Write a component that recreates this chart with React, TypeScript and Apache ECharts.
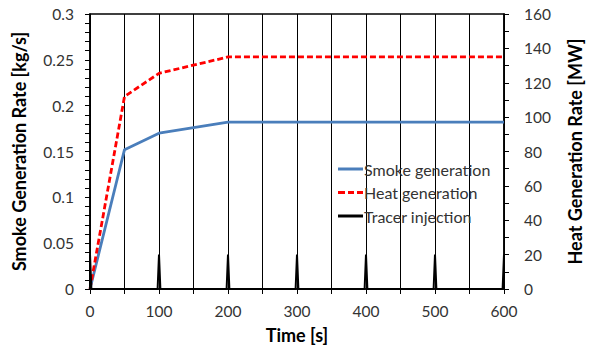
import React, { useEffect, useRef } from "react";
import * as echarts from "echarts";

const smokeTimes = [0, 50, 100, 200, 600];
const smokeValues = [0, 0.152, 0.17, 0.182, 0.182];
const heatTimes = [0, 50, 100, 200, 600];
const heatValues = [0, 112, 125.5, 135, 135];
const tracerTimes = [0, 0, 2, 98, 100, 102, 198, 200, 202, 298, 300, 302, 398, 400, 402, 498, 500, 502, 598, 600, 600];
const tracerValues = [0, 20, 0, 0, 20, 0, 0, 20, 0, 0, 20, 0, 0, 20, 0, 0, 20, 0, 0, 20, 0];
const seriesNames = ["Smoke generation", "Heat generation", "Tracer injection"];

const FONT = "Lato, 'Open Sans', sans-serif";
const SOLID_ICON = "path://M0,0H25V3H0Z";
const DASH_ICON = "path://M0,0H7V3H0Z M10,0H16V3H10Z M19,0H25V3H19Z";

export default function App() {
  const ref = useRef<HTMLDivElement>(null);
  useEffect(() => {
    if (!ref.current) return;
    const chart = echarts.init(ref.current, null, { renderer: "svg" });
    const zip = (xs: number[], ys: number[]) => xs.map((x, i) => [x, ys[i]]);
    chart.setOption({
      animation: false,
      backgroundColor: "#ffffff",
      textStyle: { fontFamily: FONT },
      grid: {
        left: 90,
        right: 93,
        top: 14,
        bottom: 60,
        outerBoundsMode: "none",
        containLabel: false,
        show: true,
        borderColor: "#000",
        borderWidth: 1.5,
        backgroundColor: "transparent",
      },
      legend: {
        orient: "vertical",
        left: 338,
        top: 161,
        padding: 0,
        itemWidth: 25,
        itemHeight: 3,
        itemGap: 7.5,
        data: [
          { name: seriesNames[0], icon: SOLID_ICON },
          { name: seriesNames[1], icon: DASH_ICON },
          { name: seriesNames[2], icon: SOLID_ICON },
        ],
        textStyle: { fontFamily: FONT, fontSize: 16, color: "#333", lineHeight: 16, padding: [0, 0, 0, -4] },
      },
      xAxis: {
        type: "value",
        min: 0,
        max: 600,
        interval: 50,
        name: "Time [s]",
        nameLocation: "middle",
        nameGap: 37,
        nameTextStyle: { fontFamily: FONT, fontSize: 18, fontWeight: "bold", color: "#000" },
        axisLine: { show: true, lineStyle: { color: "#000", width: 1.5 } },
        axisTick: { show: true, inside: false, length: 5, lineStyle: { color: "#000" } },
        axisLabel: {
          margin: 14,
          fontFamily: FONT,
          fontSize: 15.5,
          color: "#333",
          formatter: (v: number) => (v % 100 === 0 ? String(v) : ""),
        },
        splitLine: { show: true, lineStyle: { color: "#000", width: 1 } },
      },
      yAxis: [
        {
          type: "value",
          min: 0,
          max: 0.3,
          interval: 0.05,
          position: "left",
          name: "Smoke Generation Rate [kg/s]",
          nameLocation: "middle",
          nameGap: 62,
          nameTextStyle: { fontFamily: FONT, fontSize: 18, fontWeight: "bold", color: "#000" },
          axisLine: { show: true, lineStyle: { color: "#000", width: 1.5 } },
          axisTick: { show: true, length: 5, lineStyle: { color: "#000" } },
          minorTick: { show: true, splitNumber: 5, length: 5, lineStyle: { color: "#000" } },
          axisLabel: { margin: 16, fontFamily: FONT, fontSize: 15.5, color: "#333" },
          splitLine: { show: false },
        },
        {
          type: "value",
          min: 0,
          max: 160,
          interval: 20,
          position: "right",
          name: "Heat Generation Rate [MW]",
          nameLocation: "middle",
          nameGap: 62,
          nameRotate: 90,
          nameTextStyle: { fontFamily: FONT, fontSize: 18, fontWeight: "bold", color: "#000" },
          axisLine: { show: true, lineStyle: { color: "#000", width: 1.5 } },
          axisTick: { show: true, length: 5, lineStyle: { color: "#000" } },
          minorTick: { show: true, splitNumber: 2, length: 5, lineStyle: { color: "#000" } },
          axisLabel: { margin: 20, fontFamily: FONT, fontSize: 15.5, color: "#333" },
          splitLine: { show: false },
        },
      ],
      series: [
        {
          name: seriesNames[0],
          type: "line",
          yAxisIndex: 0,
          symbol: "none",
          data: zip(smokeTimes, smokeValues),
          lineStyle: { color: "#4a7ebb", width: 2.8 },
          itemStyle: { color: "#4a7ebb" },
          z: 3,
        },
        {
          name: seriesNames[1],
          type: "line",
          yAxisIndex: 1,
          symbol: "none",
          data: zip(heatTimes, heatValues),
          lineStyle: { color: "#ff0000", width: 2.8, type: [6, 3] },
          itemStyle: { color: "#ff0000" },
          z: 4,
        },
        {
          name: seriesNames[2],
          type: "line",
          yAxisIndex: 1,
          symbol: "none",
          data: zip(tracerTimes, tracerValues),
          lineStyle: { color: "#000", width: 2 },
          itemStyle: { color: "#000" },
          z: 5,
          clip: false,
        },
      ],
    });
    return () => chart.dispose();
  }, []);
  return <div ref={ref} style={{ width: 597, height: 349, position: "absolute", left: 0, top: 0 }} />;
}
